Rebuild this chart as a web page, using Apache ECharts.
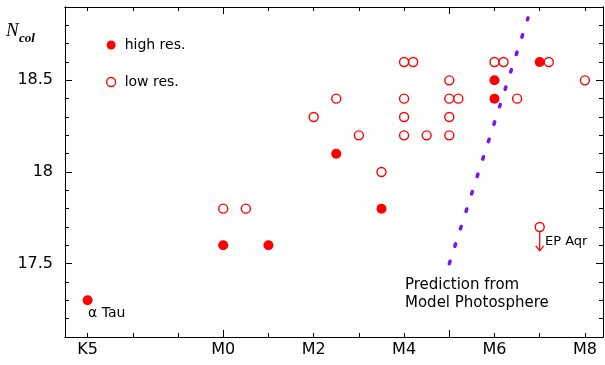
<!DOCTYPE html>
<html>
<head>
<meta charset="utf-8">
<script src="https://cdn.jsdelivr.net/npm/echarts@6/dist/echarts.min.js"></script>
<style>html,body{margin:0;padding:0;background:#fff}#c{width:605px;height:365px}</style>
</head>
<body>
<div id="c"></div>
<script>
// x: spectral subtype, M0 = 0, K5 = -3
const xTickValues = [-3, 0, 2, 4, 6, 8];
const xTickLabels = ['K5', 'M0', 'M2', 'M4', 'M6', 'M8'];
const xMinorTicks = [-3, -2, -1, 0, 1, 2, 3, 4, 5, 6, 7, 8];
const xMajorTicks = [0, 5];
const yTickValues = [17.5, 18, 18.5];
const yMinorTicks = [17.2, 17.3, 17.4, 17.5, 17.6, 17.7, 17.8, 17.9, 18.0, 18.1, 18.2, 18.3, 18.4, 18.5, 18.6, 18.7, 18.8];

const highRes = [[-3, 17.3], [0, 17.6], [1, 17.6], [2.5, 18.1], [3.5, 17.8], [6, 18.5], [6, 18.4], [7, 18.6]];
const lowRes = [[0, 17.8], [0.5, 17.8], [2, 18.3], [2.5, 18.4], [3, 18.2], [3.5, 18.0],
  [4, 18.6], [4.2, 18.6], [4, 18.4], [4, 18.3], [4, 18.2], [4.5, 18.2],
  [5, 18.5], [5, 18.4], [5.2, 18.4], [5, 18.3], [5, 18.2],
  [6, 18.6], [6.2, 18.6], [6.5, 18.4], [7.2, 18.6], [8, 18.5]];
// EP Aqr upper limit: [x, y, arrow end y]
const epAqr = [[7, 17.7, 17.57]];
const prediction = [[5.0, 17.5], [6.74, 18.84]];

const RED = '#ff0000';
const PURPLE = '#7f10f5';
const FONT = 'DejaVu Sans';

const chart = echarts.init(document.getElementById('c'), null, {renderer: 'canvas'});

function xAxisDef(pos, ticks, len, labels) {
  return {
    type: 'value', position: pos, min: -3.5, max: 8.4,
    axisLine: {show: true, onZero: false, lineStyle: {color: '#000', width: 1}},
    axisTick: {show: true, inside: true, length: len, customValues: ticks, lineStyle: {color: '#000', width: 1}},
    axisLabel: labels ? {show: true, customValues: xTickValues, margin: 5, color: '#000', fontFamily: FONT, fontSize: 16,
      formatter: v => { const i = xTickValues.indexOf(v); return i >= 0 ? xTickLabels[i] : ''; }} : {show: false},
    splitLine: {show: false}
  };
}
function yAxisDef(pos, ticks, len, labels) {
  return {
    type: 'value', position: pos, min: 17.1, max: 18.9,
    axisLine: {show: true, onZero: false, lineStyle: {color: '#000', width: 1}},
    axisTick: {show: true, inside: true, length: len, customValues: ticks, lineStyle: {color: '#000', width: 1}},
    axisLabel: labels ? {show: true, customValues: yTickValues, margin: 12, color: '#000', fontFamily: FONT, fontSize: 16,
      formatter: v => String(Math.round(v * 10) / 10)} : {show: false},
    splitLine: {show: false}
  };
}

chart.setOption({
  animation: false,
  backgroundColor: '#fff',
  grid: {left: 65, right: 2, top: 7, bottom: 28, containLabel: false},
  xAxis: [
    xAxisDef('bottom', xMinorTicks, 4, true),
    xAxisDef('bottom', xMajorTicks, 7, false),
    xAxisDef('top', xMinorTicks, 4, false),
    xAxisDef('top', xMajorTicks, 7, false)
  ],
  yAxis: [
    yAxisDef('left', yTickValues, 7, true),
    yAxisDef('left', yMinorTicks, 4, false),
    yAxisDef('right', yTickValues, 7, false),
    yAxisDef('right', yMinorTicks, 4, false)
  ],
  legend: {
    data: ['high res.', 'low res.'],
    orient: 'vertical', left: 106, top: 38, padding: 0,
    itemWidth: 9, itemHeight: 9, itemGap: 23,
    itemStyle: {borderWidth: 1.3},
    textStyle: {fontFamily: FONT, fontSize: 14, color: '#000', padding: [0, 0, 0, 4]},
    selectedMode: false
  },
  series: [
    {
      name: 'prediction', type: 'line', data: prediction, symbol: 'none',
      lineStyle: {color: PURPLE, width: 3.5, type: [2.5, 15.8], cap: 'round', opacity: 1}, z: 1
    },
    {
      name: 'high res.', type: 'scatter', data: highRes, symbol: 'circle', symbolSize: 10,
      itemStyle: {color: RED, opacity: 1}, z: 3
    },
    {
      name: 'low res.', type: 'scatter', data: lowRes, symbol: 'circle', symbolSize: 9,
      itemStyle: {color: '#fff', borderColor: RED, borderWidth: 1.4, opacity: 1}, z: 3
    },
    {
      name: 'EP Aqr', type: 'custom', data: epAqr, z: 3,
      renderItem: function (params, api) {
        const p = api.coord([api.value(0), api.value(1)]);
        const e = api.coord([api.value(0), api.value(2)]);
        const r = 4.5;
        return {
          type: 'group',
          children: [
            {type: 'line', shape: {x1: p[0], y1: p[1] + r, x2: e[0], y2: e[1]}, style: {stroke: RED, lineWidth: 1.3}},
            {type: 'polyline', shape: {points: [[e[0] - 4, e[1] - 5], [e[0], e[1]], [e[0] + 4, e[1] - 5]]}, style: {stroke: RED, lineWidth: 1.3, fill: null}},
            {type: 'circle', shape: {cx: p[0], cy: p[1], r: r}, style: {fill: '#fff', stroke: RED, lineWidth: 1.4}}
          ]
        };
      }
    }
  ],
  graphic: [
    {type: 'text', left: 6, top: 21, style: {text: 'N', font: 'italic 19px "Liberation Serif"', fill: '#000'}},
    {type: 'text', left: 19, top: 32, style: {text: 'col', font: 'italic bold 13px "Liberation Serif"', fill: '#000'}},
    {type: 'text', left: 88, top: 306, style: {text: 'α Tau', font: '14px "DejaVu Sans"', fill: '#000'}},
    {type: 'text', left: 545, top: 235, style: {text: 'EP Aqr', font: '13px "DejaVu Sans"', fill: '#000'}},
    {type: 'text', left: 405, top: 276, style: {text: 'Prediction from\nModel Photosphere', font: '15px "DejaVu Sans"', lineHeight: 18, fill: '#000'}}
  ]
});
</script>
</body>
</html>
